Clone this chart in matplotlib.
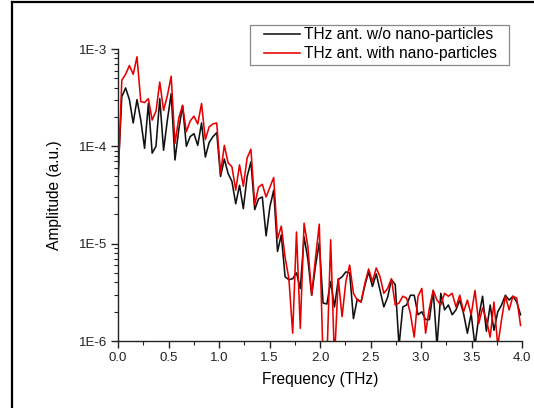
import numpy as np
import matplotlib
matplotlib.use("Agg")
import matplotlib.pyplot as plt
from matplotlib.lines import Line2D
from matplotlib.patches import Rectangle
from matplotlib.ticker import FixedLocator, FixedFormatter, LogLocator, NullFormatter

plt.rcParams['font.family'] = ['Liberation Sans', 'DejaVu Sans']

# frequency grid (THz), uniform FFT sampling
step_thz = 0.0376
n_points = 107
freq = np.arange(n_points) * step_thz

# log10 of amplitude
log_without = [
    -4.30, -3.49, -3.40, -3.52, -3.76, -3.52, -3.73, -4.02, -3.56, -4.07,
    -4.00, -3.51, -4.04, -3.73, -3.46, -4.14, -3.83, -3.58, -4.00, -3.90,
    -3.87, -3.99, -3.76, -4.11, -3.96, -3.90, -3.86, -4.31, -4.13, -4.28,
    -4.36, -4.59, -4.40, -4.64, -4.31, -4.16, -4.65, -4.54, -4.52, -4.92,
    -4.62, -4.45, -5.08, -4.91, -5.34, -5.37, -5.36, -5.30, -5.46, -4.93,
    -5.16, -5.53, -5.23, -4.99, -5.61, -5.62, -5.39, -5.65, -5.37, -5.34,
    -5.29, -5.30, -5.77, -5.57, -5.60, -5.43, -5.29, -5.44, -5.31, -5.48,
    -5.65, -5.55, -5.37, -5.42, -6.05, -5.65, -5.63, -5.53, -5.53, -5.73,
    -5.70, -5.78, -5.78, -5.48, -6.05, -5.51, -5.68, -5.63, -5.73, -5.68,
    -5.58, -5.72, -5.92, -5.72, -6.05, -5.75, -5.54, -5.90, -5.63, -5.89,
    -5.70, -5.63, -5.53, -5.58, -5.54, -5.60, -5.73]

log_with = [
    -4.38, -3.32, -3.26, -3.17, -3.26, -3.08, -3.54, -3.55, -3.51, -3.73,
    -3.64, -3.34, -3.63, -3.48, -3.28, -3.97, -3.71, -3.58, -3.85, -3.74,
    -3.69, -3.77, -3.56, -3.93, -3.80, -3.77, -3.76, -4.28, -3.99, -4.17,
    -4.21, -4.45, -4.19, -4.41, -4.12, -4.03, -4.60, -4.42, -4.39, -4.52,
    -4.42, -4.32, -4.95, -4.82, -5.14, -5.36, -5.92, -4.88, -5.87, -4.79,
    -5.03, -5.53, -5.15, -4.80, -6.20, -6.20, -4.96, -6.20, -5.36, -5.75,
    -5.39, -5.22, -5.51, -5.58, -5.60, -5.41, -5.26, -5.39, -5.25, -5.34,
    -5.51, -5.46, -5.36, -5.63, -5.61, -5.54, -5.56, -5.72, -5.96, -5.54,
    -5.46, -5.92, -5.66, -5.48, -5.58, -5.63, -5.51, -5.54, -5.51, -5.65,
    -5.53, -5.70, -5.58, -5.73, -5.48, -5.82, -5.66, -5.78, -5.96, -5.60,
    -6.05, -5.78, -5.54, -5.68, -5.54, -5.56, -5.84]

amp_without = 10.0 ** np.array(log_without)
amp_with = 10.0 ** np.array(log_with)

series_labels = ["THz ant. w/o nano-particles", "THz ant. with nano-particles"]
x_ticks = [0.0, 0.5, 1.0, 1.5, 2.0, 2.5, 3.0, 3.5, 4.0]
x_ticklabels = ["0.0", "0.5", "1.0", "1.5", "2.0", "2.5", "3.0", "3.5", "4.0"]
y_ticks = [1e-6, 1e-5, 1e-4, 1e-3]
y_ticklabels = ["1E-6", "1E-5", "1E-4", "1E-3"]

W, H = 534, 408
fig = plt.figure(figsize=(W/100, H/100), dpi=100)
ax = fig.add_axes([118/W, 1-341/H, (522-118)/W, (341-49)/H])

ax.plot(freq, amp_without, color="#111111", lw=1.15, label=series_labels[0])
ax.plot(freq, amp_with, color="#e60000", lw=1.15, label=series_labels[1])

ax.set_yscale("log")
ax.set_xlim(0, 4.0)
ax.set_ylim(1e-6, 1e-3)

ax.xaxis.set_major_locator(FixedLocator(x_ticks))
ax.xaxis.set_major_formatter(FixedFormatter(x_ticklabels))
ax.xaxis.set_minor_locator(FixedLocator([0.25, 0.75, 1.25, 1.75, 2.25, 2.75, 3.25, 3.75]))
ax.yaxis.set_major_locator(FixedLocator(y_ticks))
ax.yaxis.set_major_formatter(FixedFormatter(y_ticklabels))
ax.yaxis.set_minor_locator(LogLocator(base=10, subs=np.arange(2, 10)))
ax.yaxis.set_minor_formatter(NullFormatter())

ax.tick_params(which="major", direction="out", length=5, width=1, labelsize=9.5, colors="#222222", pad=3)
ax.tick_params(which="minor", direction="out", length=3, width=0.8, colors="#222222")
for s in ["top", "right"]:
    ax.spines[s].set_visible(False)
for s in ["left", "bottom"]:
    ax.spines[s].set_linewidth(1.0)
    ax.spines[s].set_color("#222222")

ax.set_xlabel("Frequency (THz)", fontsize=11.2, labelpad=6)
ax.set_ylabel("Amplitude (a.u.)", fontsize=11.2, labelpad=12)

# legend frame drawn separately to match its padding
fig.add_artist(Rectangle((250/W, 1-65/H), (509-250)/W, 40/H, transform=fig.transFigure,
                         facecolor="white", edgecolor="#888888", lw=0.9, zorder=4))
leg = fig.legend(loc="upper right", bbox_to_anchor=(497/W, 1-27/H), fontsize=11.2,
                 frameon=False, handlelength=2.3, handletextpad=0.25, borderpad=0,
                 labelspacing=0.28, borderaxespad=0)
leg.set_zorder(5)

# outer frame lines (top and left)
fig.add_artist(Line2D([12/W, 1.0], [1-2/H, 1-2/H], transform=fig.transFigure, color="black", lw=1.6))
fig.add_artist(Line2D([12/W, 12/W], [0.0, 1-2/H], transform=fig.transFigure, color="black", lw=1.6))

fig.savefig("out.png", dpi=100)
